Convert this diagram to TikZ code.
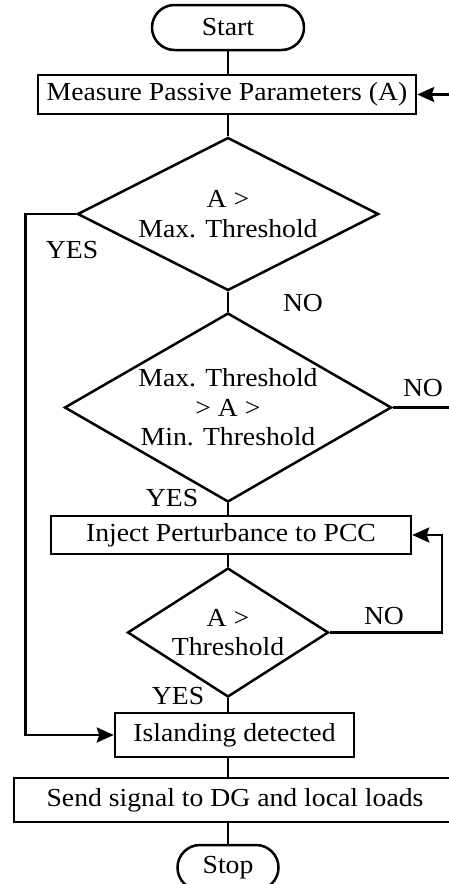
\documentclass[tikz,border=0pt]{standalone}
\usepackage{fontspec}
\setmainfont[FakeStretch=1.065]{Liberation Serif}
\usetikzlibrary{shapes.geometric,shapes.misc,arrows.meta}

\begin{document}
\begin{tikzpicture}[x=1pt,y=-1pt,line width=2.5pt,
  every node/.style={font=\fontsize{26}{29.5}\selectfont,inner sep=0pt},
  terminal/.style={draw,rounded rectangle,minimum height=45pt},
  process/.style={draw,rectangle},
  decision/.style={draw,diamond},
  cond/.style={align=center},
  lbl/.style={anchor=base},
  flow/.style={-{Stealth[length=17pt,width=15pt,inset=2.5pt]}}]

\useasboundingbox (0,0) rectangle (449,884);
\clip (0,0) rectangle (449,884);

% blocks
\node[terminal,minimum width=152pt] (start) at (228,27.5) {Start};
\node[process,minimum width=378pt,minimum height=39pt] (meas) at (227,94.5) {Measure Passive Parameters (A)};
\node[decision,minimum width=301pt,minimum height=153pt] (d1) at (228,214) {};
\node[cond] (d1t) at (d1) {A >\\Max. Threshold};
\node[decision,minimum width=327pt,minimum height=189pt] (d2) at (228,407.5) {};
\node[cond] (d2t) at (d2) {Max. Threshold\\> A >\\Min. Threshold};
\node[process,minimum width=360pt,minimum height=38pt] (inj) at (231,535) {Inject Perturbance to PCC};
\node[decision,minimum width=201pt,minimum height=129pt] (d3) at (228,632.5) {};
\node[cond] (d3t) at (d3) {A >\\Threshold};
\node[process,minimum width=239pt,minimum height=44pt] (isl) at (234.5,735) {Islanding detected};
\node[process,minimum width=442pt,minimum height=44pt] (send) at (235,800) {Send signal to DG and local loads};
\node[terminal,minimum width=101pt] (stop) at (228,867.5) {Stop};

% free ends at the right border
\coordinate (fbin) at (449,94.5);
\coordinate (noout) at (449,407.5);

% main column
\draw (start.south) -- (start.south |- meas.north);
\draw (d1.north |- meas.south) -- (d1.north);
\draw (d1.south) -- (d2.north);
\draw (d2.south) -- (d2.south |- inj.north);
\draw (d3.north |- inj.south) -- (d3.north);
\draw (d3.south) -- (d3.south |- isl.north);
\draw (d3.south |- isl.south) -- (d3.south |- send.north);
\draw (stop.north |- send.south) -- (stop.north);

% branches
\draw[flow] (fbin) -- (meas.east);
\draw[flow] (d1.west) -- ++(-51,0) |- (isl.west);
\draw (d2.east) -- (noout);
\draw[flow] (d3.east) -- ++(112,0) |- (inj.east);

% branch labels
\node[lbl] (y1) at (72,258) {YES};
\node[lbl] (n1) at (303,311.5) {NO};
\node[lbl] (n2) at (423,396.5) {NO};
\node[lbl] (y2) at (172,506.5) {YES};
\node[lbl] (n3) at (384,624) {NO};
\node[lbl] (y3) at (178,704) {YES};
\end{tikzpicture}
\end{document}
